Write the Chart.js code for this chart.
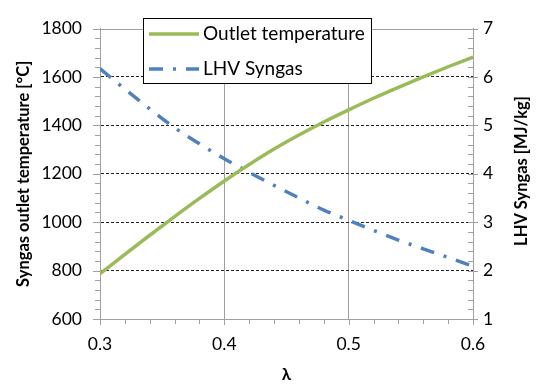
<!DOCTYPE html>
<html>
<head>
<meta charset="utf-8">
<script src="https://cdn.jsdelivr.net/npm/chart.js@4.4.1/dist/chart.umd.min.js"></script>
<style>
  html, body { margin: 0; padding: 0; background: #fff; }
</style>
</head>
<body>
<canvas id="myChart" width="536" height="385"></canvas>
<script>
// data
var lambdas = [0.30, 0.32, 0.34, 0.36, 0.38, 0.40, 0.42, 0.44, 0.46, 0.48, 0.50, 0.52, 0.54, 0.56, 0.58, 0.60];
var outletTemp = [787, 867, 946, 1023, 1098, 1170, 1238, 1302, 1360, 1414, 1464, 1512, 1557, 1600, 1642, 1682];
var lhvSyngas = [6.17, 5.75, 5.34, 4.95, 4.62, 4.31, 4.03, 3.76, 3.50, 3.25, 3.04, 2.83, 2.63, 2.45, 2.27, 2.09];

var xTicks = [0.3, 0.4, 0.5, 0.6];
var tempTicks = [600, 800, 1000, 1200, 1400, 1600, 1800];
var lhvTicks = [1, 2, 3, 4, 5, 6, 7];

var axisGray = '#a0a0a0';
var fontName = 'Lato';

const tempPoints = lambdas.map(function (l, i) { return { x: l, y: outletTemp[i] }; });
const lhvPoints = lambdas.map(function (l, i) { return { x: l, y: lhvSyngas[i] }; });

const data = {
    datasets: [{
        label: 'Outlet temperature',
        data: tempPoints,
        yAxisID: 'y',
        borderColor: '#9bbb59',
        backgroundColor: '#9bbb59',
        borderWidth: 3.5,
        pointRadius: 0,
        cubicInterpolationMode: 'monotone'
    }, {
        label: 'LHV Syngas',
        data: lhvPoints,
        yAxisID: 'y1',
        borderColor: '#4f81bd',
        backgroundColor: '#4f81bd',
        borderWidth: 3.5,
        borderDash: [14, 10, 3, 10],
        pointRadius: 0,
        cubicInterpolationMode: 'monotone'
    }]
};

function near(a, b) { return Math.abs(a - b) < 1e-6; }

// minor ticks, top border, right title and the boxed legend
const extras = {
    id: 'extras',
    afterDraw: function (chart) {
        const ctx = chart.ctx;
        const a = chart.chartArea;
        const sx = chart.scales.x, sy = chart.scales.y, sy1 = chart.scales.y1;
        ctx.save();
        ctx.strokeStyle = axisGray;
        ctx.lineWidth = 1;
        ctx.beginPath();
        ctx.moveTo(a.left, Math.round(a.top) + 0.5);
        ctx.lineTo(a.right, Math.round(a.top) + 0.5);
        for (var i = 15; i <= 30; i++) {
            var px = Math.round(sx.getPixelForValue(i / 50)) + 0.5;
            ctx.moveTo(px, a.bottom);
            ctx.lineTo(px, a.bottom + (i % 5 === 0 ? 6 : 5));
        }
        for (var j = 15; j <= 45; j++) {
            var py = Math.round(sy.getPixelForValue(j * 40)) + 0.5;
            ctx.moveTo(a.left - (j % 5 === 0 ? 7 : 5), py);
            ctx.lineTo(a.left, py);
        }
        for (var k = 5; k <= 35; k++) {
            var py1 = Math.round(sy1.getPixelForValue(k / 5)) + 0.5;
            ctx.moveTo(a.right - 5, py1);
            ctx.lineTo(a.right + (k % 5 === 0 ? 5 : 0), py1);
        }
        ctx.stroke();

        // right axis title, reading upwards
        ctx.fillStyle = '#000';
        ctx.font = 'bold 16.5px ' + fontName;
        ctx.textAlign = 'center';
        ctx.textBaseline = 'middle';
        ctx.translate(522, 171);
        ctx.rotate(-Math.PI / 2);
        ctx.fillText('LHV Syngas [MJ/kg]', 0, 0);
        ctx.restore();

        // legend
        ctx.save();
        var lx = 143.5, ly = 18.5, lw = 228, lh = 65;
        ctx.fillStyle = '#fff';
        ctx.fillRect(lx, ly, lw, lh);
        ctx.strokeStyle = '#000';
        ctx.lineWidth = 1;
        ctx.strokeRect(lx, ly, lw, lh);
        var rows = [34, 69];
        chart.data.datasets.forEach(function (ds, n) {
            ctx.strokeStyle = ds.borderColor;
            ctx.lineWidth = ds.borderWidth;
            ctx.setLineDash(ds.borderDash || []);
            ctx.beginPath();
            ctx.moveTo(149, rows[n]);
            ctx.lineTo(199, rows[n]);
            ctx.stroke();
            ctx.setLineDash([]);
            ctx.fillStyle = '#000';
            ctx.font = '19px ' + fontName;
            ctx.textAlign = 'left';
            ctx.textBaseline = 'middle';
            ctx.fillText(ds.label, 203, rows[n]);
        });
        ctx.restore();
    }
};

const config = {
    type: 'line',
    data: data,
    options: {
        responsive: false,
        animation: false,
        devicePixelRatio: 1,
        layout: { padding: { top: 15, left: 0, right: 0, bottom: 0 } },
        plugins: {
            legend: { display: false },
            tooltip: { enabled: false }
        },
        scales: {
            x: {
                type: 'linear',
                min: 0.3,
                max: 0.6,
                afterBuildTicks: function (axis) { axis.ticks = xTicks.map(function (v) { return { value: v }; }); },
                afterFit: function (axis) { axis.height = 66; },
                grid: {
                    drawTicks: false,
                    color: function (c) {
                        var v = c.tick ? c.tick.value : 0;
                        return (near(v, 0.4) || near(v, 0.5)) ? axisGray : 'rgba(0,0,0,0)';
                    }
                },
                border: { color: axisGray },
                ticks: {
                    padding: 15,
                    color: '#000',
                    font: { family: fontName, size: 17.5 },
                    callback: function (v) { return v.toFixed(1); }
                },
                title: {
                    display: true,
                    text: 'λ',
                    color: '#000',
                    font: { family: fontName, size: 17, weight: 'bold' },
                    padding: { top: 0, bottom: 0 }
                }
            },
            y: {
                position: 'left',
                min: 600,
                max: 1800,
                afterBuildTicks: function (axis) { axis.ticks = tempTicks.map(function (v) { return { value: v }; }); },
                afterFit: function (axis) { axis.width = 100; },
                grid: {
                    drawTicks: false,
                    lineWidth: 1,
                    color: function (c) {
                        var v = c.tick ? c.tick.value : 0;
                        return (v === 600 || v === 1800) ? 'rgba(0,0,0,0)' : '#222';
                    }
                },
                border: { color: axisGray, dash: [3, 2] },
                ticks: {
                    padding: 18,
                    color: '#000',
                    font: { family: fontName, size: 17.5 },
                    callback: function (v) { return String(v); }
                },
                title: {
                    display: true,
                    text: 'Syngas outlet temperature [°C]',
                    color: '#000',
                    font: { family: fontName, size: 16.5, weight: 'bold' },
                    padding: { top: 14, bottom: 0 }
                }
            },
            y1: {
                position: 'right',
                min: 1,
                max: 7,
                afterBuildTicks: function (axis) { axis.ticks = lhvTicks.map(function (v) { return { value: v }; }); },
                afterFit: function (axis) { axis.width = 63; },
                grid: { drawOnChartArea: false, drawTicks: false },
                border: { color: axisGray },
                ticks: {
                    padding: 10,
                    color: '#000',
                    font: { family: fontName, size: 17.5 },
                    callback: function (v) { return String(v); }
                }
            }
        }
    },
    plugins: [extras]
};

const myChart = new Chart(
    document.getElementById('myChart'),
    config
);
</script>
</body>
</html>
